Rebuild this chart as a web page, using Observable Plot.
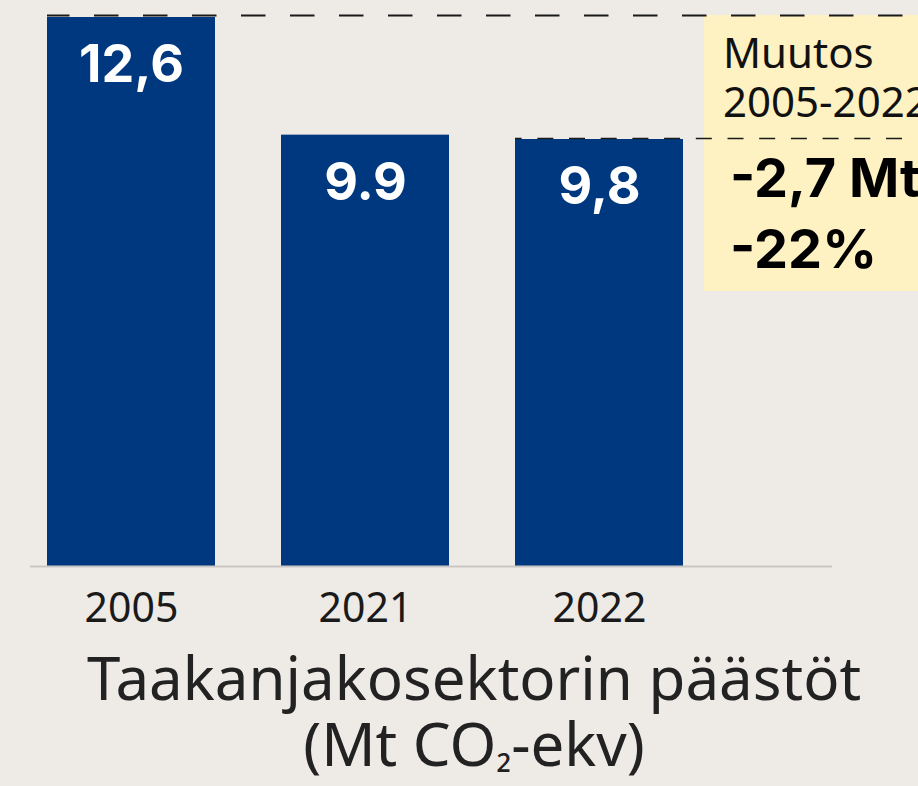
<!DOCTYPE html>
<html>
<head>
<meta charset="utf-8">
<script src="https://cdn.jsdelivr.net/npm/d3@7"></script>
<script src="https://cdn.jsdelivr.net/npm/@observablehq/plot@0.6"></script>
<style>
  html, body { margin: 0; padding: 0; background: #EEEBE7; overflow: hidden; }
  #wrap { position: relative; width: 918px; height: 786px; overflow: hidden; }
  #box { position: absolute; left: 704px; top: 15px; width: 240px; height: 276px; background: #FEF2C2; z-index: 0; }
  #box .reg { position: absolute; left: 19px; top: 12px; font-family: "Noto Sans", sans-serif; font-size: 42px; line-height: 49px; color: #111; white-space: nowrap; }
  #box .bold { position: absolute; left: 26px; top: 127px; font-family: Inter, sans-serif; font-weight: 700; font-size: 54px; line-height: 71px; color: #000; white-space: nowrap; }
  #chart { position: relative; z-index: 1; }
  #title { margin-left: 30px; width: 888px; text-align: center; font-family: "Noto Sans", sans-serif; font-size: 60px; line-height: 66px; color: #222; margin-top: 4px; }
  #title .sub { font-size: 0.7em; }
</style>
</head>
<body>
<div id="wrap">
  <div id="box">
    <div class="reg"></div>
    <div class="bold"></div>
  </div>
  <div id="chart"></div>
  <div id="title"></div>
</div>
<script>
// Data
const years = ["2005", "2021", "2022"];
const values = [12.6, 9.9, 9.8];
const valueLabels = ["12,6", "9.9", "9,8"];
const spareSlot = " ";               // empty slot to the right (annotation column)
const changeLines = ["Muutos", "2005-2022"];
const changeValues = ["-2,7 Mt", "-22%"];
const titleLines = ["Taakanjakosektorin päästöt", "(Mt CO₂-ekv)"];

const data = years.map((y, i) => ({year: y, value: values[i], label: valueLabels[i]}));
const refStart = data[0];            // 2005 level
const refEnd = data[data.length - 1]; // 2022 level

document.querySelector("#box .reg").innerHTML = changeLines.join("<br>");
document.querySelector("#box .bold").innerHTML = changeValues.join("<br>");
document.getElementById("title").innerHTML = titleLines
  .map(s => s.replace("₂", '<span class="sub">₂</span>'))
  .join("<br>");

const barColor = "#00387F";

const chart = Plot.plot({
  width: 918,
  height: 640,
  marginTop: 17,
  marginBottom: 74,
  marginLeft: 30,
  marginRight: 86,
  style: {background: "transparent", overflow: "hidden"},
  x: {type: "band", domain: [...years, spareSlot], range: [30, 934], paddingInner: 0.281, paddingOuter: 0.064, axis: null},
  y: {domain: [0, 12.6], axis: null},
  marks: [
    Plot.barY(data, {x: "year", y: "value", fill: barColor}),
    Plot.ruleY([0], {stroke: "#C9C6C3", strokeWidth: 2}),
    Plot.text(data, {x: "year", y: "value", text: "label", fill: "white", fontSize: 52, fontWeight: 700, fontFamily: "Inter, sans-serif", lineAnchor: "middle", dy: 48}),
    Plot.ruleY([refStart], {x1: d => d.year, x2: () => spareSlot, y: "value", stroke: "#1a1a1a", strokeWidth: 2, strokeDasharray: "24.5,24.5", strokeDashoffset: 2, dy: -2}),
    Plot.ruleY([refEnd], {x1: d => d.year, x2: () => spareSlot, y: "value", stroke: "#1a1a1a", strokeWidth: 1.5, strokeDasharray: "16,15.7", strokeDashoffset: 9.4, dy: -1}),
    Plot.axisX({ticks: years, tickSize: 0, tickPadding: 26, fontSize: 41, fontFamily: "'Noto Sans', sans-serif", fill: "#1a1a1a", label: null})
  ]
});
document.getElementById("chart").appendChild(chart);
</script>
</body>
</html>
